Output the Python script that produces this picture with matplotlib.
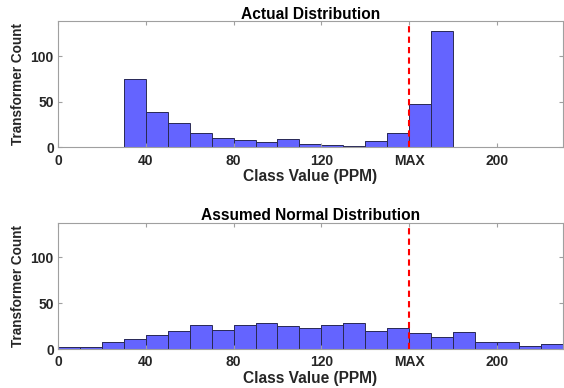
import numpy as np
import matplotlib
matplotlib.use("Agg")
import matplotlib.pyplot as plt

plt.rcParams['font.family'] = ['Liberation Sans', 'DejaVu Sans']
plt.rcParams['font.weight'] = 'bold'

# bin edges (PPM), width 10
actual_edges = np.arange(30, 190, 10)
actual_counts = [75, 39, 27, 16, 10, 8, 6, 9, 4, 3, 2, 7, 16, 48, 128]

normal_edges = np.arange(0, 240, 10)
normal_counts = [2, 2, 8, 11, 15, 20, 26, 21, 26, 28, 25, 23, 26, 28,
                 20, 23, 17, 13, 19, 8, 8, 3, 6]

max_value = 160
xtick_vals = [0, 40, 80, 120, 160, 200]
xtick_labels = ['0', '40', '80', '120', 'MAX', '200']
ytick_vals = [0, 50, 100]
titles = ['Actual Distribution', 'Assumed Normal Distribution']

bar_color = '#6464ff'
edge_color = '#2a2a55'
text_color = '#262626'

fig = plt.figure(figsize=(5.64, 3.88), dpi=100)
ax1 = fig.add_axes([0.1028, 0.620, 0.8952, 0.3246])
ax2 = fig.add_axes([0.1028, 0.1005, 0.8952, 0.3255])

for ax, edges, counts, title in [(ax1, actual_edges, actual_counts, titles[0]),
                                 (ax2, normal_edges, normal_counts, titles[1])]:
    ax.stairs(counts, edges, fill=True, facecolor=bar_color, edgecolor='none')
    ax.bar(edges[:-1], counts, width=10, align='edge', facecolor='none',
           edgecolor=edge_color, linewidth=0.7)
    ax.axvline(max_value, color='#ff0000', linestyle='--', linewidth=1.5,
               dashes=(3, 2))
    ax.set_xlim(0, 230)
    ax.set_ylim(0, 138)
    ax.set_xticks(xtick_vals)
    ax.set_xticklabels(xtick_labels)
    ax.set_yticks(ytick_vals)
    ax.tick_params(direction='in', length=3, top=True, right=True,
                   labelsize=10, colors='#a0a0a0', labelcolor=text_color)
    ax.tick_params(axis='x', pad=4.5)
    ax.tick_params(axis='y', pad=3)
    for sp in ax.spines.values():
        sp.set_color('#a0a0a0')
        sp.set_linewidth(0.8)
    ax.set_xlabel('Class Value (PPM)', fontsize=11.2, fontweight='bold',
                  color=text_color, labelpad=1)
    ax.set_ylabel('Transformer Count', fontsize=9.8, fontweight='bold',
                  color=text_color, labelpad=4)
    ax.set_title(title, fontsize=11.2, fontweight='bold', color='black', pad=2)

fig.savefig('out.png', dpi=100)
